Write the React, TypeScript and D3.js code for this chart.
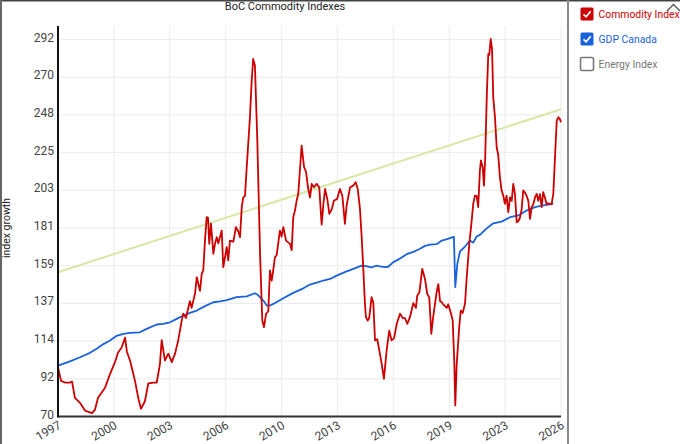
import { useEffect, useRef } from 'react';
import * as d3 from 'd3';

// ---- data (decimal year, index value) ----
const commodityDates = [
  1997.00, 1997.18, 1997.41, 1997.70, 1997.82, 1997.99, 1998.29, 1998.58, 1998.99, 1999.16,
  1999.34, 1999.75, 2000.04, 2000.33, 2000.51, 2000.72, 2000.92, 2001.03, 2001.21, 2001.50,
  2001.69, 2001.85, 2002.08, 2002.28, 2002.57, 2002.77, 2002.96, 2003.06, 2003.25, 2003.45,
  2003.65, 2003.84, 2004.03, 2004.23, 2004.32, 2004.48, 2004.71, 2004.81, 2005.01, 2005.11,
  2005.30, 2005.40, 2005.49, 2005.59, 2005.69, 2005.77, 2005.84, 2005.94, 2006.08, 2006.18,
  2006.28, 2006.37, 2006.57, 2006.66, 2006.86, 2006.95, 2007.05, 2007.25, 2007.40, 2007.54,
  2007.64, 2007.74, 2007.83, 2007.93, 2008.03, 2008.22, 2008.32, 2008.41, 2008.51, 2008.65,
  2008.81, 2008.94, 2009.04, 2009.16, 2009.29, 2009.39, 2009.49, 2009.58, 2009.68, 2009.78,
  2009.97, 2010.07, 2010.17, 2010.33, 2010.56, 2010.66, 2010.75, 2010.85, 2010.95, 2011.04,
  2011.14, 2011.24, 2011.38, 2011.50, 2011.61, 2011.73, 2011.83, 2011.96, 2012.12, 2012.27,
  2012.41, 2012.51, 2012.61, 2012.74, 2012.86, 2013.00, 2013.13, 2013.31, 2013.48, 2013.62,
  2013.77, 2013.87, 2014.07, 2014.26, 2014.40, 2014.52, 2014.65, 2014.75, 2014.84, 2014.94,
  2015.00, 2015.10, 2015.19, 2015.33, 2015.43, 2015.53, 2015.66, 2015.78, 2015.92, 2016.05,
  2016.21, 2016.36, 2016.50, 2016.64, 2016.80, 2016.99, 2017.15, 2017.28, 2017.42, 2017.57,
  2017.77, 2017.92, 2018.00, 2018.12, 2018.29, 2018.45, 2018.58, 2018.70, 2018.82, 2018.92,
  2019.13, 2019.23, 2019.33, 2019.43, 2019.52, 2019.62, 2019.72, 2019.81, 2019.95, 2020.07,
  2020.16, 2020.22, 2020.30, 2020.45, 2020.54, 2020.65, 2020.79, 2020.89, 2021.04, 2021.18,
  2021.27, 2021.37, 2021.47, 2021.56, 2021.66, 2021.72, 2021.82, 2021.90, 2021.97, 2022.06,
  2022.15, 2022.21, 2022.29, 2022.37, 2022.44, 2022.54, 2022.64, 2022.73, 2022.83, 2022.93,
  2023.03, 2023.12, 2023.22, 2023.32, 2023.42, 2023.52, 2023.61, 2023.71, 2023.81, 2023.90,
  2024.00, 2024.10, 2024.19, 2024.29, 2024.39, 2024.49, 2024.59, 2024.68, 2024.78, 2024.88,
  2024.98, 2025.07, 2025.17, 2025.27, 2025.36, 2025.46, 2025.56, 2025.66, 2025.75, 2025.85,
  2025.95, 2026.05, 2026.15, 2026.25, 2026.34, 2026.40,
];
const commodityValues = [
  99, 91, 90, 90, 90.5, 81, 78, 73.5, 72, 74,
  81, 87, 95, 102, 107.7, 110.6, 116.5, 108, 103, 91,
  81, 74.5, 79, 89.5, 90, 90, 101, 115, 103, 107,
  102, 107, 115, 126.5, 130.6, 128, 138, 134, 142.4, 152,
  144, 154, 156, 173.6, 187.4, 187, 171.7, 183.6, 165.8, 172,
  175.6, 172, 179.5, 158, 169.7, 161.9, 173.6, 173, 181.5, 179,
  175.6, 193.3, 199, 200, 216.8, 246.3, 267.9, 280.6, 276.7, 232.5,
  166, 126.5, 122.6, 130.5, 132, 156, 150, 156, 163.8, 165,
  179.5, 176, 181.5, 173.6, 171.7, 168, 187.4, 191.3, 197.2, 201,
  214.9, 229.6, 217, 214, 205, 199, 207, 205, 207, 205,
  183, 195, 204, 198, 189.4, 192, 197.2, 198, 204, 200,
  183.5, 194.3, 205, 206, 208, 204, 192.3, 175.6, 158, 136.4,
  128.5, 126.5, 128, 140.3, 137, 114.8, 115.5, 108.9, 101, 92.2,
  108.9, 120.6, 114.8, 116, 124.6, 130.5, 128, 128, 124.6, 128.5,
  136.8, 134, 141.3, 143, 157, 151, 142.3, 140, 118.7, 128,
  143.2, 148, 138, 137.3, 136, 135, 134, 136, 131.4, 126.5,
  103, 76.5, 100, 122.6, 132.4, 131, 136.4, 152, 171.7, 185.4,
  195.2, 200.1, 200, 193.3, 214.9, 220.8, 217, 206, 222.7, 258,
  283.5, 283, 292.4, 286.5, 258, 246.3, 228.6, 224, 211, 203.1,
  200, 195.2, 200, 190.3, 199.1, 197, 207, 201, 184.4, 185,
  187, 192, 203.1, 202, 200, 197, 186.4, 193, 195, 199,
  201.1, 197, 201, 193.3, 202.1, 199, 195, 195.5, 195.2, 195,
  201.1, 222.7, 244.3, 246.3, 245, 243.3,
];

const gdpDates = [
  1997.00, 1997.70, 1998.29, 1998.87, 1999.26, 1999.63, 2000.04, 2000.43, 2000.82, 2001.21,
  2001.79, 2002.18, 2002.77, 2003.14, 2003.55, 2003.94, 2004.32, 2004.71, 2005.11, 2005.59,
  2006.08, 2006.47, 2006.86, 2007.44, 2008.03, 2008.51, 2008.69, 2009.00, 2009.20, 2009.35,
  2009.68, 2010.17, 2010.75, 2011.34, 2011.73, 2012.12, 2012.51, 2012.90, 2013.29, 2013.87,
  2014.26, 2014.75, 2015.00, 2015.33, 2015.59, 2015.82, 2016.11, 2016.30, 2016.60, 2016.99,
  2017.38, 2017.77, 2018.16, 2018.45, 2018.74, 2019.13, 2019.43, 2019.74, 2020.07, 2020.14,
  2020.22, 2020.34, 2020.50, 2020.79, 2021.08, 2021.27, 2021.47, 2021.66, 2022.06, 2022.44,
  2022.93, 2023.42, 2023.90, 2024.39, 2024.88, 2025.36, 2025.64, 2025.85, 2025.95,
];
const gdpValues = [
  100, 102.5, 104.9, 107.5, 109.9, 112.5, 114.8, 117.5, 118.7, 119.2,
  119.6, 121.6, 124.2, 124.5, 125.5, 127.5, 129.5, 131, 132.4, 135,
  137.3, 137.8, 138.5, 140.3, 140.8, 142.6, 141.5, 138.3, 135.4, 135.2,
  136.8, 139.6, 142.8, 145.5, 147.7, 148.8, 150.1, 151, 153, 155.5,
  157, 158.9, 158.6, 157.8, 158.8, 158.4, 158, 158.2, 160.9, 163,
  165.6, 167, 168.8, 170.5, 171.2, 171.5, 173.6, 174.5, 175.6, 175.8,
  146.2, 159.9, 167.3, 170.1, 173.6, 172.4, 176, 177, 180.8, 183.8,
  184.8, 187.4, 188.4, 191.3, 193.3, 194.3, 194.8, 195.2, 195.5,
];

const trendDates = [1997.0, 2026.4];
const trendValues = [155, 251];

const yTicks = [70, 92.2, 114.4, 136.6, 158.8, 181, 203.2, 225.4, 247.6, 269.8, 292];
const xTicks = [1997, 2000.27, 2003.53, 2006.8, 2010.07, 2013.33, 2016.6, 2019.87, 2023.13, 2026.4];
const xTickLabels = ['1997', '2000', '2003', '2006', '2010', '2013', '2016', '2019', '2023', '2026'];

const legendItems = [
  { name: 'Commodity Index', color: '#cc0000', checked: true },
  { name: 'GDP Canada', color: '#1a62d9', checked: true },
  { name: 'Energy Index', color: '#777777', checked: false },
];

const FONT = 'Roboto, "Noto Sans", sans-serif';

export default function App() {
  const svgRef = useRef<SVGSVGElement>(null);

  useEffect(() => {
    if (!svgRef.current) return;
    const W = 680, H = 444;
    const PAD = { t: 26, r: 119, b: 27.5, l: 58 };

    const svg = d3.select(svgRef.current);
    svg.selectAll('*').remove();
    svg.attr('width', W).attr('height', H).attr('viewBox', `0 0 ${W} ${H}`);

    svg.append('rect').attr('width', W).attr('height', H).attr('fill', '#fff');

    const x = d3.scaleLinear().domain([1997, 2026.4]).range([PAD.l, W - PAD.r]);
    const y = d3.scaleLinear().domain([70, 300]).range([H - PAD.b, PAD.t]);

    // Grid
    yTicks.forEach(t => {
      svg.append('line')
        .attr('x1', PAD.l).attr('x2', W - PAD.r)
        .attr('y1', y(t)).attr('y2', y(t))
        .attr('stroke', '#ebebeb').attr('stroke-width', 1);
      svg.append('text')
        .attr('x', PAD.l - 4).attr('y', y(t) + 2)
        .attr('text-anchor', 'end').attr('font-size', 12)
        .attr('font-family', FONT).attr('fill', '#444')
        .text(Math.round(t));
    });
    xTicks.forEach((t, i) => {
      svg.append('line')
        .attr('x1', x(t)).attr('x2', x(t))
        .attr('y1', PAD.t).attr('y2', H - PAD.b)
        .attr('stroke', '#ebebeb').attr('stroke-width', 1);
      svg.append('text')
        .attr('transform', `translate(${x(t) + 4},${H - PAD.b + 11}) rotate(-30)`)
        .attr('text-anchor', 'end').attr('font-size', 12)
        .attr('font-family', FONT).attr('fill', '#444')
        .text(xTickLabels[i]);
    });

    const mkLine = (dates: number[], vals: number[]) =>
      d3.line<number>().x((_, i) => x(dates[i])).y(v => y(v))(vals) ?? '';

    // Trend
    svg.append('path').attr('d', mkLine(trendDates, trendValues))
      .attr('fill', 'none').attr('stroke', '#d6e8a4').attr('stroke-width', 2);
    // GDP
    svg.append('path').attr('d', mkLine(gdpDates, gdpValues))
      .attr('fill', 'none').attr('stroke', '#1a62d9').attr('stroke-width', 1.8)
      .attr('stroke-linejoin', 'round');
    // Commodity
    svg.append('path').attr('d', mkLine(commodityDates, commodityValues))
      .attr('fill', 'none').attr('stroke', '#cc0000').attr('stroke-width', 1.8)
      .attr('stroke-linejoin', 'round');

    // Axes
    svg.append('line')
      .attr('x1', PAD.l).attr('x2', W - PAD.r)
      .attr('y1', H - PAD.b).attr('y2', H - PAD.b)
      .attr('stroke', '#333').attr('stroke-width', 2);
    svg.append('line')
      .attr('x1', PAD.l).attr('x2', PAD.l)
      .attr('y1', PAD.t).attr('y2', H - PAD.b + 1)
      .attr('stroke', '#111').attr('stroke-width', 2);

    // Title + axis label
    svg.append('text')
      .attr('x', 285).attr('y', 10)
      .attr('text-anchor', 'middle').attr('font-size', 11)
      .attr('font-family', FONT).attr('fill', '#222')
      .text('BoC Commodity Indexes');
    svg.append('text')
      .attr('transform', `translate(10,228) rotate(-90)`)
      .attr('text-anchor', 'middle').attr('font-size', 10.5)
      .attr('font-family', FONT).attr('fill', '#222')
      .text('index growth');

    // Frame
    svg.append('line').attr('x1', 0).attr('x2', W).attr('y1', 0.5).attr('y2', 0.5)
      .attr('stroke', '#444').attr('stroke-width', 2);
    svg.append('line').attr('x1', 1).attr('x2', 1).attr('y1', 0).attr('y2', H)
      .attr('stroke', '#666').attr('stroke-width', 2);
    svg.append('line').attr('x1', 568).attr('x2', 568).attr('y1', 0).attr('y2', H)
      .attr('stroke', '#888').attr('stroke-width', 2);

    // Legend
    legendItems.forEach((d, i) => {
      const ly = 7.5 + i * 25;
      const g = svg.append('g').attr('transform', `translate(580.5,${ly})`);
      g.append('rect')
        .attr('width', 13).attr('height', 13).attr('rx', 1.5)
        .attr('fill', d.checked ? d.color : '#fff')
        .attr('stroke', d.checked ? d.color : '#777').attr('stroke-width', d.checked ? 0 : 1.6);
      if (d.checked) {
        g.append('path').attr('d', 'M3,6.8 L5.6,9.3 L10.2,3.8')
          .attr('fill', 'none').attr('stroke', '#fff').attr('stroke-width', 1.7);
      }
      g.append('text')
        .attr('x', 18).attr('y', 10.5)
        .attr('font-size', 10.4).attr('font-family', FONT)
        .attr('fill', d.color)
        .text(d.name);
    });
    // collapse caret
    svg.append('path').attr('d', 'M667,11 L673.5,4.5 L680,11')
      .attr('fill', 'none').attr('stroke', '#555').attr('stroke-width', 1.4);
  }, []);

  return (
    <div style={{ position: 'absolute', left: 0, top: 0, width: 680, height: 444 }}>
      <svg ref={svgRef} style={{ display: 'block' }} />
    </div>
  );
}
